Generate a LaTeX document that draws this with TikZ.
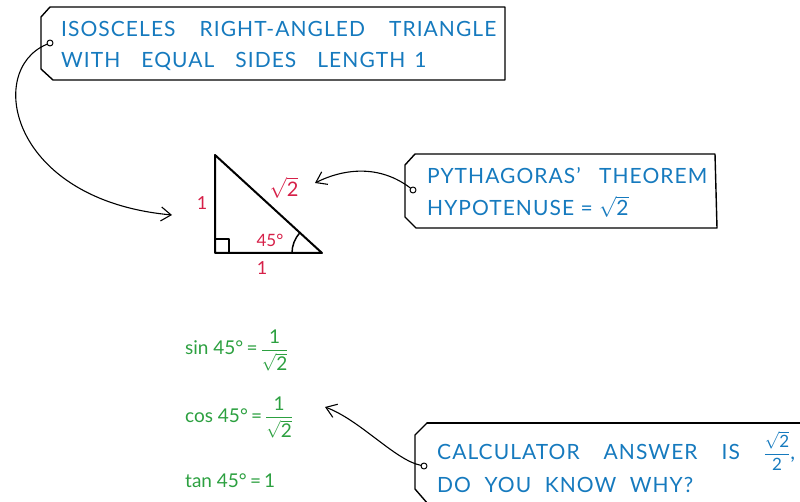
\documentclass[tikz,border=0pt]{standalone}
\usepackage{amsmath}
\usepackage{fontspec}
\setmainfont{Lato}
\newfontfamily\notafont[LetterSpace=5]{Lato}
\usetikzlibrary{arrows.meta}
\definecolor{azul}{RGB}{22,122,190}
\definecolor{rojo}{RGB}{214,32,72}
\definecolor{verde}{RGB}{44,160,64}
\begin{document}
\begin{tikzpicture}[x=1pt, y=-1pt, line cap=round, line join=round,
  caja/.style={line width=1.4pt},
  punto/.style={circle, draw, fill=white, line width=1pt, inner sep=0pt, minimum size=6pt},
  flecha/.style={line width=1.1pt, -{Straight Barb[length=10pt, width=14pt, line width=1.1pt]}},
  nota/.style={anchor=base west, inner sep=0pt, text=azul, font=\notafont\fontsize{21}{25}\selectfont},
  medida/.style={inner sep=0pt, text=rojo, font=\fontsize{18}{22}\selectfont},
  formula/.style={anchor=base west, inner sep=0pt, text=verde, font=\fontsize{19}{23}\selectfont}]
  \useasboundingbox (0,0) rectangle (800,502);
  % la primera caja, arriba
  \draw[caja] (50,7) -- (505,7) -- (505,80) -- (53,80) -- (41,69) -- (41,17) -- cycle;
  \node[nota] (cajaAuno) at (61,37) {\makebox[435pt][s]{ISOSCELES RIGHT-ANGLED TRIANGLE}};
  \node[nota] (cajaAdos) at (61,68) {\makebox[344pt][s]{WITH EQUAL SIDES LENGTH}\hspace{9pt}1};
  % el triangulo, con el angulo recto y el de 45
  \draw[line width=2pt] (215,155) -- (215,253) -- (322,253) -- cycle;
  \draw[line width=1.5pt] (215,239) -- (229,239) -- (229,253);
  \draw[line width=1.5pt] (292,253) arc[start angle=180, end angle=222.5, radius=30];
  \coordinate (puntaA) at (172,215);
  \coordinate (puntaB) at (315,183);
  \node[medida] (ladoV) at (202,203) {1};
  \node[medida] (ladoH) at (262,268) {1};
  \node[medida, font=\fontsize{20}{24}\selectfont] (hipo) at (284,188) {$\sqrt{\text{2}}$};
  \node[medida, font=\fontsize{17}{20}\selectfont] (angulo) at (270,240) {45°};
  % la segunda caja, a la derecha
  \draw[caja] (415,154) -- (715,154) -- (717,228) -- (416,228) -- (405,217) -- (405,165) -- cycle;
  \node[nota] (cajaBuno) at (427,184) {PYTHAGORAS’};
  \node[nota] (cajaBtres) at (599,184) {THEOREM};
  \node[nota] (cajaBdos) at (427,216) {HYPOTENUSE = $\sqrt{\text{2}}$};
  % las razones en verde
  \node[formula] (seno) at (185,355) {sin 45°\,=\,$\dfrac{\text{1}}{\sqrt{\text{2}}}$};
  \node[formula] (coseno) at (185,422) {cos 45°\,=\,$\dfrac{\text{1}}{\sqrt{\text{2}}}$};
  \node[formula] (tangente) at (185,487) {tan 45°\,=\,1};
  \coordinate (puntaC) at (325,407);
  % la tercera caja, cortada por el borde
  \draw[caja] (427,423) -- (812,423);
  \draw[caja] (427,423) -- (415,435) -- (415,489) -- (428,504);
  \node[nota] (cajaCuno) at (437,459) {\makebox[358pt][s]{CALCULATOR ANSWER IS {\fontsize{17}{20}\selectfont$\dfrac{\sqrt{\text{2}}}{\text{2}}$},}};
  \node[nota] (cajaCdos) at (437,492) {\makebox[256pt][s]{DO YOU KNOW WHY?}};
  % los puntos y las flechas
  \node[punto] (puntoA) at (50,43) {};
  \node[punto] (puntoB) at (413,190) {};
  \node[punto] (puntoC) at (424,466) {};
  \draw[flecha] (puntoA) .. controls (-15,70) and (10,200) .. (puntaA);
  \draw[flecha] (puntoB) .. controls (380,165) and (345,168) .. (puntaB);
  \draw[flecha] (puntoC) .. controls (395,460) and (360,420) .. (puntaC);
\end{tikzpicture}
\end{document}
